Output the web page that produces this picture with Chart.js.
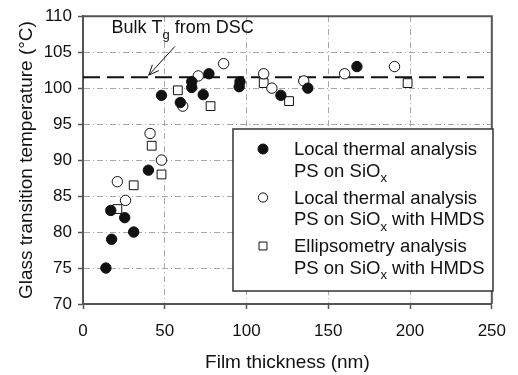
<!DOCTYPE html>
<html>
<head>
<meta charset="utf-8">
<script src="https://cdn.jsdelivr.net/npm/chart.js@4"></script>
<style>
  html, body { margin: 0; padding: 0; background: #fff; }
  canvas { display: block; }
</style>
</head>
<body>
<canvas id="myChart" width="518" height="375"></canvas>
<script>
// values: film thickness (nm) and Tg (deg C)
var localThick = [14, 17.5, 17, 25.5, 31, 40, 48, 59.5, 66.5, 66.5, 73.5, 77, 95.5, 96, 121, 137.5, 167.5];
var localTg    = [75, 79, 83, 82, 80, 88.6, 99, 98, 100.9, 100.1, 99.1, 102, 100.2, 100.9, 99, 100, 103];

var hmdsThick = [21, 26, 41, 48, 61, 70.5, 86, 110.5, 115.5, 135, 160, 190.5];
var hmdsTg    = [87, 84.4, 93.7, 90, 97.5, 101.7, 103.4, 102, 100, 101, 102, 103];

var ellipThick = [21, 31, 42, 48, 58, 78, 110.5, 126, 198.5];
var ellipTg    = [83.2, 86.5, 92, 88, 99.7, 97.5, 100.7, 98.2, 100.7];

var bulkTg = 101.5;

var xTicks = [0, 50, 100, 150, 200, 250];
var yTicks = [70, 75, 80, 85, 90, 95, 100, 105, 110];

// "_" marks a one-letter subscript
var seriesLabels = [
  ["Local thermal analysis", "PS on SiO_x"],
  ["Local thermal analysis", "PS on SiO_x with HMDS"],
  ["Ellipsometry analysis", "PS on SiO_x with HMDS"]
];
var xTitle = "Film thickness (nm)";
var yTitle = "Glass transition temperature (\u00B0C)";
var noteText = "Bulk T_g from DSC";

var FONT = "'Liberation Sans', Arial, Helvetica, sans-serif";
var INK = "#111";
var AXIS = "#555";

function toPoints(xs, ys) {
  var pts = [];
  for (var i = 0; i < xs.length; i++) pts.push({ x: xs[i], y: ys[i] });
  return pts;
}

// draws text with "_x" style subscripts, returns end x
function drawRich(ctx, text, x, y, size) {
  var parts = text.split("_");
  ctx.textBaseline = "alphabetic";
  ctx.textAlign = "left";
  ctx.font = size + "px " + FONT;
  ctx.fillText(parts[0], x, y);
  x += ctx.measureText(parts[0]).width;
  for (var i = 1; i < parts.length; i++) {
    var sub = parts[i].charAt(0);
    var rest = parts[i].slice(1);
    ctx.font = Math.round(size * 0.72) + "px " + FONT;
    ctx.fillText(sub, x, y + size * 0.3);
    x += ctx.measureText(sub).width;
    ctx.font = size + "px " + FONT;
    ctx.fillText(rest, x, y);
    x += ctx.measureText(rest).width;
  }
  return x;
}

function drawMarker(ctx, style, x, y, r) {
  ctx.save();
  ctx.lineWidth = 1;
  ctx.strokeStyle = INK;
  ctx.beginPath();
  if (style.shape === "rect") {
    var s = r * Math.SQRT1_2;
    ctx.rect(x - s, y - s, 2 * s, 2 * s);
  } else {
    ctx.arc(x, y, r, 0, Math.PI * 2);
  }
  ctx.fillStyle = style.fill;
  ctx.fill();
  ctx.stroke();
  ctx.restore();
}

var extras = {
  id: "extras",
  afterDraw: function (chart) {
    var ctx = chart.ctx;
    var a = chart.chartArea;
    var xs = chart.scales.x, ys = chart.scales.y;

    // top and right frame
    ctx.save();
    ctx.strokeStyle = AXIS;
    ctx.lineWidth = 2;
    ctx.beginPath();
    ctx.moveTo(a.left, a.top);
    ctx.lineTo(a.right, a.top);
    ctx.lineTo(a.right, a.bottom);
    ctx.stroke();
    ctx.restore();

    // annotation with arrow
    ctx.save();
    ctx.fillStyle = INK;
    drawRich(ctx, noteText, xs.getPixelForValue(17.4), ys.getPixelForValue(107.6), 18);
    var x1 = xs.getPixelForValue(56.2), y1 = ys.getPixelForValue(105.8);
    var x2 = xs.getPixelForValue(40.2), y2 = ys.getPixelForValue(101.8);
    ctx.strokeStyle = INK;
    ctx.lineWidth = 1;
    ctx.beginPath();
    ctx.moveTo(x1, y1);
    ctx.lineTo(x2, y2);
    var ang = Math.atan2(y2 - y1, x2 - x1);
    for (var k = -1; k <= 1; k += 2) {
      ctx.moveTo(x2, y2);
      ctx.lineTo(x2 - 11 * Math.cos(ang + k * 0.4), y2 - 11 * Math.sin(ang + k * 0.4));
    }
    ctx.stroke();
    ctx.restore();

    // legend box
    var bx = 233, by = 129, bw = 260, bh = 162;
    ctx.save();
    ctx.fillStyle = "#fff";
    ctx.fillRect(bx, by, bw, bh);
    ctx.strokeStyle = "#333";
    ctx.lineWidth = 1.5;
    ctx.strokeRect(bx, by, bw, bh);
    var styles = [
      { shape: "circle", fill: INK, r: 5 },
      { shape: "circle", fill: "#fff", r: 4.6 },
      { shape: "rect", fill: "#fff", r: 5.6 }
    ];
    ctx.fillStyle = INK;
    for (var i = 0; i < seriesLabels.length; i++) {
      var rowY = by + 26 + i * 48.5;
      drawMarker(ctx, styles[i], bx + 30, rowY - 6, styles[i].r);
      ctx.fillStyle = INK;
      drawRich(ctx, seriesLabels[i][0], bx + 61, rowY, 18.5);
      drawRich(ctx, seriesLabels[i][1], bx + 61, rowY + 21.5, 18.5);
    }
    ctx.restore();
  }
};

function gridColor(c) {
  var v = c.tick ? c.tick.value : null;
  return (v === 0 || v === 250 || v === 70 || v === 110) ? "rgba(0,0,0,0)" : "#a8a8a8";
}

var ctx = document.getElementById("myChart").getContext("2d");
var myChart = new Chart(ctx, {
  type: "scatter",
  data: {
    datasets: [
      {
        label: seriesLabels[0].join(" "),
        data: toPoints(localThick, localTg),
        pointStyle: "circle",
        pointRadius: 5.2,
        pointBackgroundColor: INK,
        pointBorderColor: INK,
        pointBorderWidth: 1,
        order: 1
      },
      {
        label: seriesLabels[1].join(" "),
        data: toPoints(hmdsThick, hmdsTg),
        pointStyle: "circle",
        pointRadius: 5.2,
        pointBackgroundColor: "#fff",
        pointBorderColor: INK,
        pointBorderWidth: 1,
        order: 2
      },
      {
        label: seriesLabels[2].join(" "),
        data: toPoints(ellipThick, ellipTg),
        pointStyle: "rect",
        pointRadius: 6.2,
        pointBackgroundColor: "#fff",
        pointBorderColor: INK,
        pointBorderWidth: 1,
        order: 3
      },
      {
        type: "line",
        label: "Bulk Tg from DSC",
        data: [{ x: xTicks[0], y: bulkTg }, { x: xTicks[xTicks.length - 1], y: bulkTg }],
        borderColor: INK,
        borderWidth: 2,
        borderDash: [17, 7],
        pointRadius: 0,
        fill: false,
        order: 10
      }
    ]
  },
  options: {
    responsive: false,
    devicePixelRatio: 1,
    animation: false,
    layout: { padding: { top: 14, right: 17, left: 0, bottom: 0 } },
    plugins: {
      legend: { display: false },
      tooltip: { enabled: false }
    },
    scales: {
      x: {
        type: "linear",
        min: xTicks[0],
        max: xTicks[xTicks.length - 1],
        afterBuildTicks: function (s) { s.ticks = xTicks.map(function (v) { return { value: v }; }); },
        afterFit: function (s) { s.height = 71; },
        ticks: { color: INK, font: { family: FONT, size: 17 }, padding: 12, maxRotation: 0 },
        grid: { color: gridColor, lineWidth: 1, tickColor: AXIS, tickLength: 5, tickWidth: 1.5 },
        border: { color: AXIS, width: 2, dash: [6, 3, 1, 3] },
        title: { display: true, text: xTitle, color: INK, font: { family: FONT, size: 19, lineHeight: 1.2 }, padding: { top: 0, bottom: 1 } }
      },
      y: {
        type: "linear",
        min: yTicks[0],
        max: yTicks[yTicks.length - 1],
        afterBuildTicks: function (s) { s.ticks = yTicks.map(function (v) { return { value: v }; }); },
        afterFit: function (s) { s.width = 83; },
        ticks: { color: INK, font: { family: FONT, size: 17 }, padding: 6 },
        grid: { color: gridColor, lineWidth: 1, tickColor: AXIS, tickLength: 5, tickWidth: 1.5 },
        border: { color: AXIS, width: 2, dash: [6, 3, 1, 3] },
        title: { display: true, text: yTitle, color: INK, font: { family: FONT, size: 19, lineHeight: 1.2 }, padding: { top: 15, bottom: 0 } }
      }
    }
  },
  plugins: [extras]
});
</script>
</body>
</html>
